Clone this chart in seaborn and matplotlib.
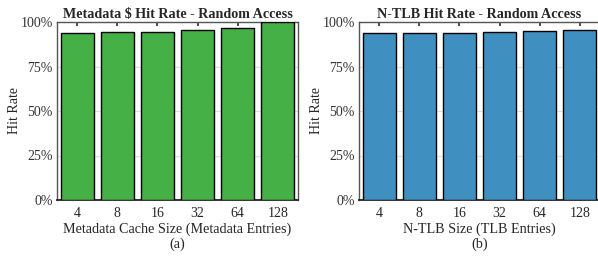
import numpy as np
import pandas as pd
import seaborn as sns
import matplotlib.pyplot as plt
from matplotlib.ticker import PercentFormatter

# Data
sizes = ["4", "8", "16", "32", "64", "128"]
meta_hit = [94.0, 94.3, 94.6, 95.5, 96.8, 99.9]
tlb_hit = [94.0, 94.0, 94.1, 94.3, 94.7, 95.3]

sns.set_theme(style="white")
plt.rcParams["font.family"] = ["Liberation Serif", "DejaVu Serif"]

fig = plt.figure(figsize=(5.98, 2.59), dpi=100)
ax1 = fig.add_axes([57 / 598, 59 / 259, 241 / 598, 178 / 259])
ax2 = fig.add_axes([359 / 598, 59 / 259, 241 / 598, 178 / 259])

panels = [
    (ax1, meta_hit, "#45b045", "Metadata $ Hit Rate - Random Access",
     "Metadata Cache Size (Metadata Entries)", "(a)", -0.15),
    (ax2, tlb_hit, "#3f8fc0", "N-TLB Hit Rate - Random Access",
     "N-TLB Size (TLB Entries)", "(b)", -0.148),
]

for ax, vals, color, title, xlabel, tag, ylab_x in panels:
    df = pd.DataFrame({"size": sizes, "hit": vals})
    sns.barplot(data=df, x="size", y="hit", color=color, saturation=1,
                width=0.82, edgecolor="black", linewidth=1.0, ax=ax, zorder=3)
    ax.set_xlim(-0.5, 5.5)
    ax.set_ylim(0, 100)
    ax.set_yticks([0, 25, 50, 75, 100])
    ax.yaxis.set_major_formatter(PercentFormatter(decimals=0))
    ax.grid(axis="y", color="#dddddd", linewidth=0.8, zorder=0)
    ax.set_axisbelow(True)
    ax.tick_params(axis="x", direction="in", top=True, bottom=True, length=3,
                   color="#333333", labelsize=10, pad=5)
    ax.tick_params(axis="y", left=False, length=0, labelsize=10, pad=3,
                   labelcolor="#333333")
    for s in ax.spines.values():
        s.set_visible(True)
        s.set_color("#555555")
        s.set_linewidth(1.0)
    ax.spines["bottom"].set_color("#222222")
    ax.spines["bottom"].set_linewidth(1.3)
    ax.set_title(title, fontsize=10.2, fontweight="bold", pad=3)
    ax.set_ylabel("Hit Rate", fontsize=10)
    ax.yaxis.set_label_coords(ylab_x, 0.5)
    ax.set_xlabel(xlabel + "\n" + tag, fontsize=10.2, labelpad=2,
                  linespacing=1.15)

fig.savefig("out.png", dpi=100)
